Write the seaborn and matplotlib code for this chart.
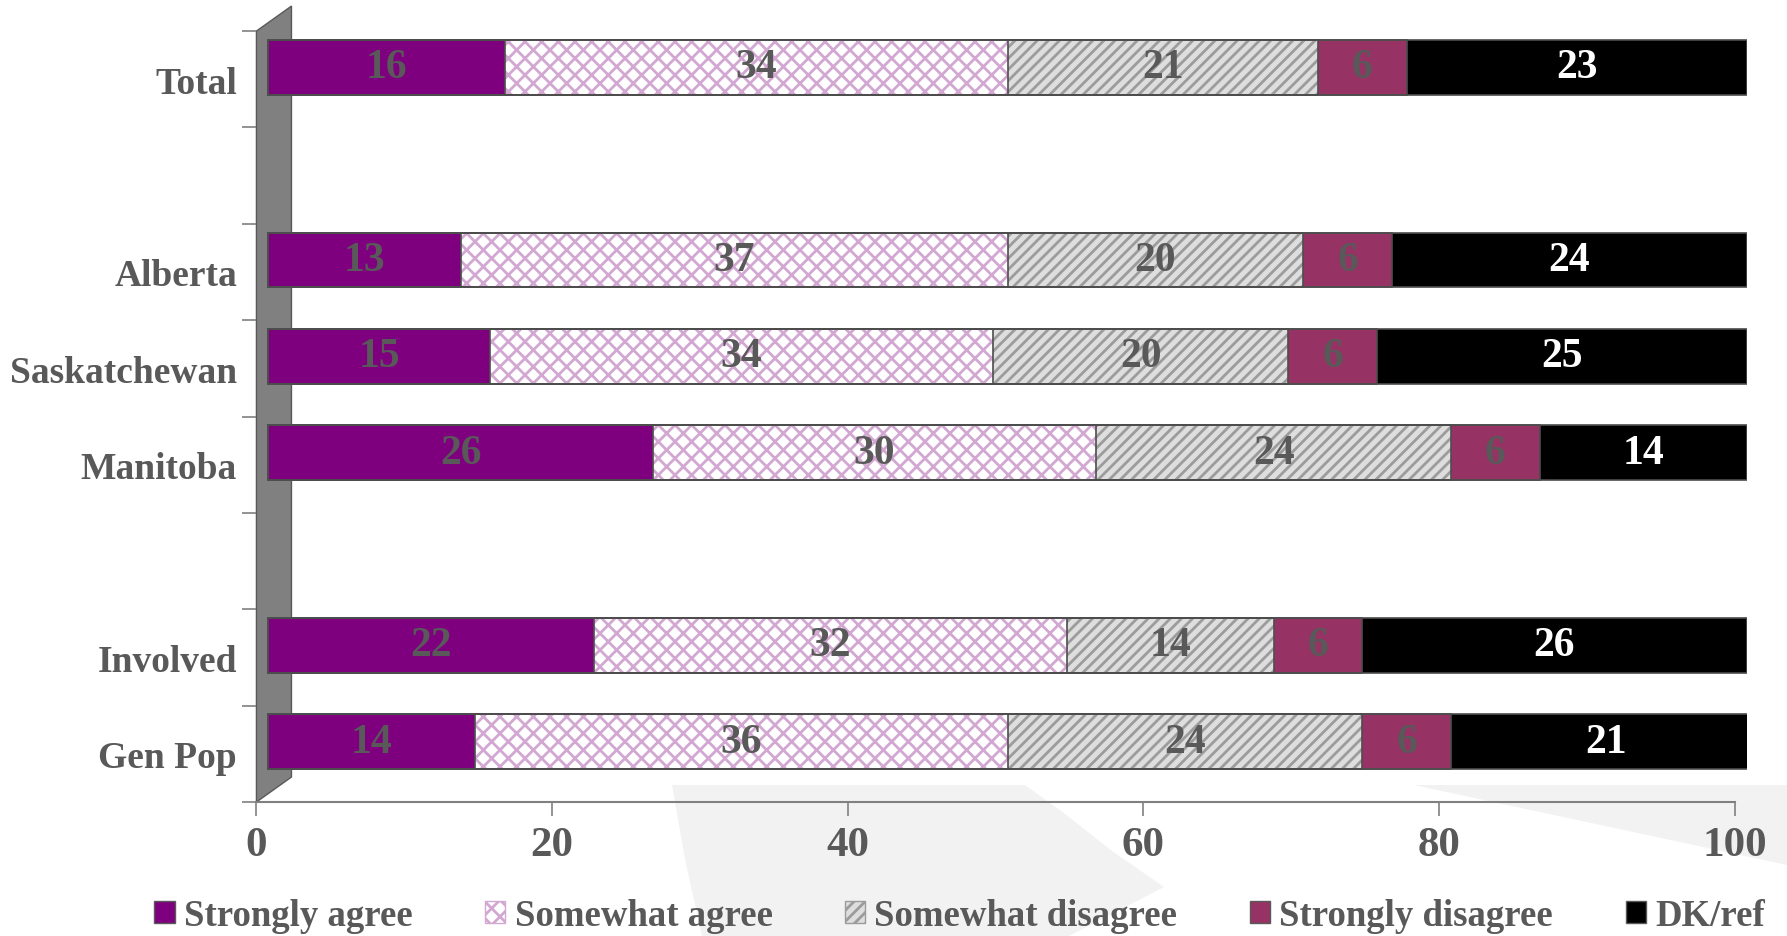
import numpy as np
import pandas as pd
import matplotlib
matplotlib.use("Agg")
import matplotlib.pyplot as plt
from matplotlib import transforms
from matplotlib.patches import Polygon, Patch, Rectangle
import seaborn as sns

# ---------------- data ----------------
groups = ["Total", "Alberta", "Saskatchewan", "Manitoba", "Involved", "Gen Pop"]
slot_order = ["Total", "gap1", "Alberta", "Saskatchewan", "Manitoba", "gap2", "Involved", "Gen Pop"]
slot_labels = ["Total", "", "Alberta", "Saskatchewan", "Manitoba", "", "Involved", "Gen Pop"]
series = ["Strongly agree", "Somewhat agree", "Somewhat disagree", "Strongly disagree", "DK/ref"]
strongly_agree = [16, 13, 15, 26, 22, 14]
somewhat_agree = [34, 37, 34, 30, 32, 36]
somewhat_disagree = [21, 20, 20, 24, 14, 24]
strongly_disagree = [6, 6, 6, 6, 6, 6]
dk_ref = [23, 24, 25, 14, 26, 21]
x_ticks = [0, 20, 40, 60, 80, 100]

# ---------------- style ----------------
face_colors = ["#7E007E", "#FFFFFF", "#DEDEDE", "#963264", "#000000"]
hatches = [None, "xx", "///", None, None]
hatch_colors = [None, "#D2A8D2", "#9C9C9C", None, None]
value_colors = ["#595959", "#595959", "#595959", "#595959", "#FFFFFF"]
TEXT = "#595959"

sns.set_theme(style="white")
plt.rcParams["font.family"] = ["Liberation Serif", "DejaVu Serif"]
plt.rcParams["font.weight"] = "bold"
plt.rcParams["hatch.linewidth"] = 2.0

fig = plt.figure(figsize=(17.87, 9.37), dpi=100)

# faint background swoosh (decoration)
W, H = 1787.0, 937.0
def fp(pts):
    return [(x / W, 1 - y / H) for x, y in pts]
fig.patches.append(Polygon(fp([(672, 786), (1025, 786), (1065, 815), (1112, 852), (1164, 888),
                               (1069, 937), (702, 937), (685, 860)]),
                           closed=True, transform=fig.transFigure, facecolor="#F2F2F2",
                           edgecolor="none", zorder=-5))
fig.patches.append(Polygon(fp([(1414, 786), (1787, 786), (1787, 866)]),
                           closed=True, transform=fig.transFigure, facecolor="#F2F2F2",
                           edgecolor="none", zorder=-5))

ax = fig.add_axes([0.1435, 0.1430, 0.8272, 0.8228])

values = np.array([strongly_agree, somewhat_agree, somewhat_disagree, strongly_disagree, dk_ref])
cum = np.cumsum(values, axis=0)

# filled segments: draw cumulative bars from the outermost inward
for j in reversed(range(len(series))):
    df = pd.DataFrame({"group": groups, "x": cum[j]})
    kws = dict(linewidth=0)
    if hatches[j]:
        kws.update(hatch=hatches[j], edgecolor=hatch_colors[j])
    sns.barplot(data=df, x="x", y="group", order=slot_order, orient="h",
                color=face_colors[j], saturation=1, width=0.57, errorbar=None,
                ax=ax, **kws)

# outlines of each segment
for j in reversed(range(len(series))):
    df = pd.DataFrame({"group": groups, "x": cum[j]})
    sns.barplot(data=df, x="x", y="group", order=slot_order, orient="h",
                fill=False, color="#4D4D4D", width=0.57, errorbar=None,
                linewidth=1.2, ax=ax)

# pseudo-3D offset of bars (depth shift), clipped at the axis maximum
off = transforms.ScaledTranslation(0.12, 0.12, fig.dpi_scale_trans)
clip_rect = Rectangle((-0.05, -0.1), 1.05, 1.2, transform=ax.transAxes + off,
                      facecolor="none", edgecolor="none")
for p in ax.patches:
    p.set_transform(ax.transData + off)
    p.set_clip_on(True)
    p.set_clip_path(clip_rect)

# value labels
for j in range(len(series)):
    for i, g in enumerate(groups):
        v = values[j][i]
        ax.text(cum[j][i] - v / 2, slot_order.index(g), f"{v}",
                transform=ax.transData + off, ha="center", va="center",
                fontsize=30, fontweight="bold", color=value_colors[j], zorder=5)

# back wall
wall = Polygon([(0, 0), (0, 1), (0.0237, 1.0324), (0.0237, 0.0324)],
               closed=True, transform=ax.transAxes, facecolor="#808080",
               edgecolor="#595959", linewidth=1, clip_on=False, zorder=0)
ax.add_patch(wall)

# axes
ax.set_xlim(0, 100)
ax.set_ylim(7.5, -0.5)
ax.set_xticks(x_ticks)
ax.set_xticklabels([str(t) for t in x_ticks])
ax.set_yticks(range(len(slot_order)))
ax.set_yticklabels(slot_labels)
ax.set_yticks(np.arange(-0.5, len(slot_order), 1.0), minor=True)
ax.set_xlabel("")
ax.set_ylabel("")
ax.tick_params(axis="y", which="major", length=0, pad=14, labelsize=27, labelcolor=TEXT)
ax.tick_params(axis="y", which="minor", left=True, length=10, width=1.2, color="#808080")
ax.tick_params(axis="x", bottom=True, length=10, width=1.2, color="#808080",
               pad=7, labelsize=31, labelcolor=TEXT)
for lab in ax.get_xticklabels() + ax.get_yticklabels():
    lab.set_fontweight("bold")
for s in ["top", "right", "left"]:
    ax.spines[s].set_visible(False)
ax.spines["bottom"].set_color("#808080")
ax.spines["bottom"].set_linewidth(1.5)
ax.set_facecolor("none")
ax.grid(False)

# legend
handles = []
for j in range(len(series)):
    if hatches[j]:
        handles.append(Patch(facecolor=face_colors[j], edgecolor=hatch_colors[j], hatch=hatches[j]))
    else:
        handles.append(Patch(facecolor=face_colors[j], edgecolor="#595959"))
fig.legend(handles, series, loc="center", bbox_to_anchor=(0.537, 0.022), ncol=5,
           frameon=False, handlelength=0.55, handleheight=0.55, handletextpad=0.25,
           columnspacing=1.97, labelcolor=TEXT,
           prop={"size": 26.5, "weight": "bold", "family": ["Liberation Serif"]})

fig.savefig("out.png", dpi=100)
